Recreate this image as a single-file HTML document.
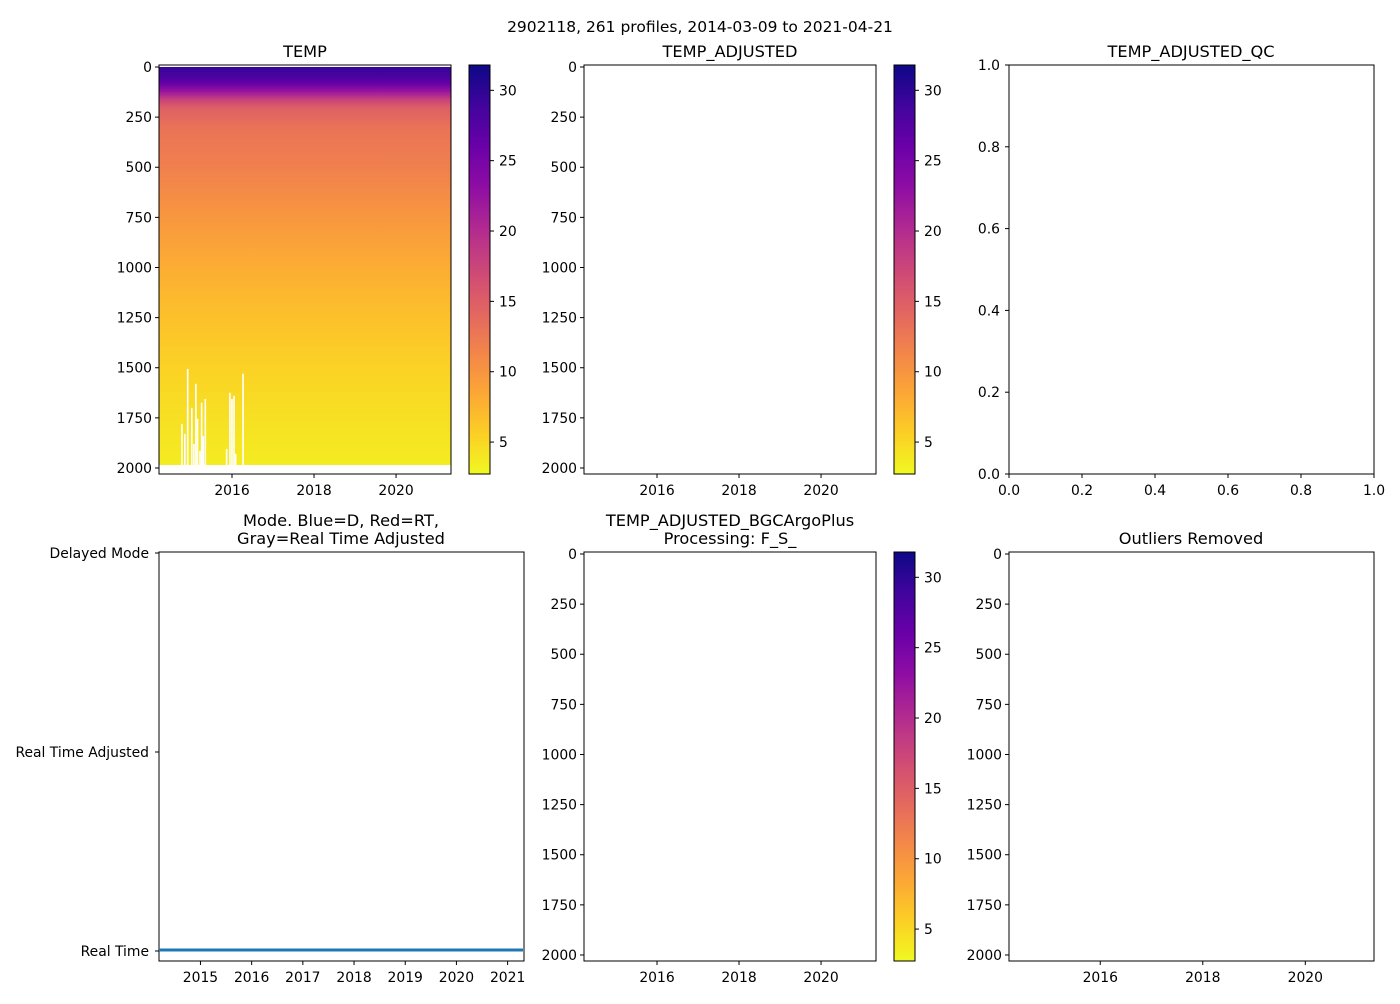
<!DOCTYPE html>
<html><head><meta charset="utf-8"><style>
body{margin:0;background:#fff;font-family:"DejaVu Sans","Liberation Sans",sans-serif}
svg text{font-family:"DejaVu Sans","Liberation Sans",sans-serif;fill:#000}
</style></head><body>
<svg id="fig" width="1400" height="1000" xmlns="http://www.w3.org/2000/svg">
<defs><clipPath id="c1"><rect x="159" y="65" width="292" height="409"/></clipPath></defs>
<text x="700" y="32" font-size="15.5" text-anchor="middle">2902118, 261 profiles, 2014-03-09 to 2021-04-21</text>
<g id="g"></g>
</svg>
<script>
// ---- data ----
const profileDepths = [0, 40, 80, 120, 160, 200, 300, 500, 750, 1000, 1250, 1500, 1750, 1985];
const profileTemps  = [29.5, 28.5, 26.5, 22.5, 18, 15, 13, 11.8, 9.8, 8, 6.6, 5.4, 4.4, 3.6];
const gapYears = [2014.76,2014.83,2014.90,2015.00,2015.05,2015.10,2015.14,2015.20,2015.24,2015.28,2015.33,2015.85,2015.93,2015.98,2016.03,2016.07,2016.25];
const gapTops  = [1780,1830,1506,1700,1880,1580,1755,1915,1675,1840,1656,1905,1625,1656,1640,1930,1530];
const depthTicks = [0,250,500,750,1000,1250,1500,1750,2000];
const yearTicks = [2016,2018,2020];
const modeYearTicks = [2015,2016,2017,2018,2019,2020,2021];
const cbarTicks = [5,10,15,20,25,30];
const qcTicks = [0,0.2,0.4,0.6,0.8,1.0];
const modeLabels = ["Delayed Mode","Real Time Adjusted","Real Time"];
const modeStart = 2014.19, modeEnd = 2021.30;

const NS="http://www.w3.org/2000/svg", G=document.getElementById('g');
function el(t,a,p){const e=document.createElementNS(NS,t);for(const k in a)e.setAttribute(k,a[k]);(p||G).appendChild(e);return e;}
function txt(x,y,s,anchor,size,p){const e=el('text',{x:x,y:y,'font-size':size||13.9,'text-anchor':anchor||'middle'},p);e.textContent=s;return e;}
const plasma=['#0d0887','#41049d','#6a00a8','#8f0da4','#b12a90','#cc4778','#e16462','#f2844b','#fca636','#fcce25','#f0f921'];
function hex(h){return [1,3,5].map(i=>parseInt(h.substr(i,2),16));}
function cmap(t){
  t=Math.max(0,Math.min(1,1-t));const f=t*10,i=Math.min(9,Math.floor(f)),r=f-i;
  const a=hex(plasma[i]),b=hex(plasma[i+1]);return 'rgb('+a.map((v,k)=>Math.round(v+(b[k]-v)*r)).join(',')+')';}
const TMIN=2.73,TMAX=31.8;
const yD=(top,bot)=>d=>top+1+(d+5)*(bot-top)/2040;
const yDtop=yD(65,474);

const defs=document.querySelector('defs');
const grad=el('linearGradient',{id:'prof',x1:0,y1:0,x2:0,y2:1},defs);
profileDepths.forEach((d,i)=>el('stop',{offset:(d/1985),'stop-color':cmap((profileTemps[i]-TMIN)/(TMAX-TMIN))},grad));
const cg=el('linearGradient',{id:'cbar',x1:0,y1:1,x2:0,y2:0},defs);
for(let i=0;i<=20;i++)el('stop',{offset:i/20,'stop-color':cmap(i/20)},cg);

function depthAxis(x0,top,bot,name){
  const y=yD(top,bot);
  depthTicks.forEach(d=>{const yy=y(d);el('line',{x1:x0-4,x2:x0,y1:yy,y2:yy,stroke:'#000'});
    const t=txt(x0-7,yy+5,String(d),'end');});
}
function yearAxis(x0,x1,bot,ticks,y0yr,y1yr,name){
  const sx=v=>x0+(v-y0yr)*(x1-x0)/(y1yr-y0yr);
  ticks.forEach(v=>{const xx=sx(v);el('line',{x1:xx,x2:xx,y1:bot,y2:bot+4,stroke:'#000'});
    const t=txt(xx,bot+21,String(v));});
  return sx;
}
function frame(x,y,w,h,name){const r=el('rect',{x:x,y:y,width:w,height:h,fill:'none',stroke:'#000','stroke-width':1});
  }
function colorbar(x,top,bot,name){
  const r=el('rect',{x:x,y:top,width:21,height:bot-top,fill:'url(#cbar)'});
  
  frame(x,top,21,bot-top,name+'-frame');
  cbarTicks.forEach(v=>{const yy=bot-(v-TMIN)*(bot-top)/(TMAX-TMIN);el('line',{x1:x+21,x2:x+25,y1:yy,y2:yy,stroke:'#000'});
    const t=txt(x+30,yy+5,String(v),'start');});
}
function title(x,y,s,name){const t=txt(x,y,s,'middle',16.2);}

const YR0=2014.22,YR1=2021.34;
const sx1=v=>159+(v-YR0)*292/(YR1-YR0);
const hm=el('rect',{x:159,y:yDtop(0),width:292,height:yDtop(1985)-yDtop(0),fill:'url(#prof)','clip-path':'url(#c1)'});

gapYears.forEach((yr,i)=>{const r=el('rect',{x:sx1(yr),y:yDtop(gapTops[i]),width:1.6,height:yDtop(1986)-yDtop(gapTops[i]),fill:'#fff'});
  });
frame(159,65,292,409,'temp-axes');
title(305,57,'TEMP','temp-title');
depthAxis(159,65,474,'temp-y');
yearAxis(159,451,474,yearTicks,YR0,YR1,'temp-x');
colorbar(469,65,474,'temp-colorbar');

frame(584,65,292,409,'temp-adjusted-axes');
title(730,57,'TEMP_ADJUSTED','temp-adjusted-title');
depthAxis(584,65,474,'temp-adjusted-y');
yearAxis(584,876,474,yearTicks,YR0,YR1,'temp-adjusted-x');
colorbar(894,65,474,'temp-adjusted-colorbar');

frame(1009,65,365,409,'qc-axes');
title(1191,57,'TEMP_ADJUSTED_QC','qc-title');
qcTicks.forEach(v=>{const xx=1009+v*365,yy=474-v*409;
  el('line',{x1:xx,x2:xx,y1:474,y2:478,stroke:'#000'});const a=txt(xx,495,v.toFixed(1));
  el('line',{x1:1005,x2:1009,y1:yy,y2:yy,stroke:'#000'});const b=txt(1000,yy+5,v.toFixed(1),'end');});

frame(159,552,365,409,'mode-axes');
title(341,526,'Mode. Blue=D, Red=RT,','mode-title-1');
title(341,544,'Gray=Real Time Adjusted','mode-title-2');
const MY0=2014.19,MY1=2021.32;
const sx4=yearAxis(159,524,961,modeYearTicks,MY0,MY1,'mode-x');
const modeY=[553,752,951];
modeLabels.forEach((s,i)=>{el('line',{x1:155,x2:159,y1:modeY[i],y2:modeY[i],stroke:'#000'});
  const t=txt(149,modeY[i]+5,s,'end');});
const ml=el('line',{x1:sx4(modeStart),x2:sx4(modeEnd),y1:950,y2:950,stroke:'#1f77b4','stroke-width':3});


frame(584,552,292,409,'bgc-axes');
title(730,526,'TEMP_ADJUSTED_BGCArgoPlus','bgc-title-1');
title(730,544,'Processing: F_S_','bgc-title-2');
depthAxis(584,552,961,'bgc-y');
yearAxis(584,876,961,yearTicks,YR0,YR1,'bgc-x');
colorbar(894,552,961,'bgc-colorbar');

frame(1009,552,365,409,'outliers-axes');
title(1191,544,'Outliers Removed','outliers-title');
depthAxis(1009,552,961,'outliers-y');
yearAxis(1009,1374,961,yearTicks,YR0,YR1,'outliers-x');
</script>
</body></html>
